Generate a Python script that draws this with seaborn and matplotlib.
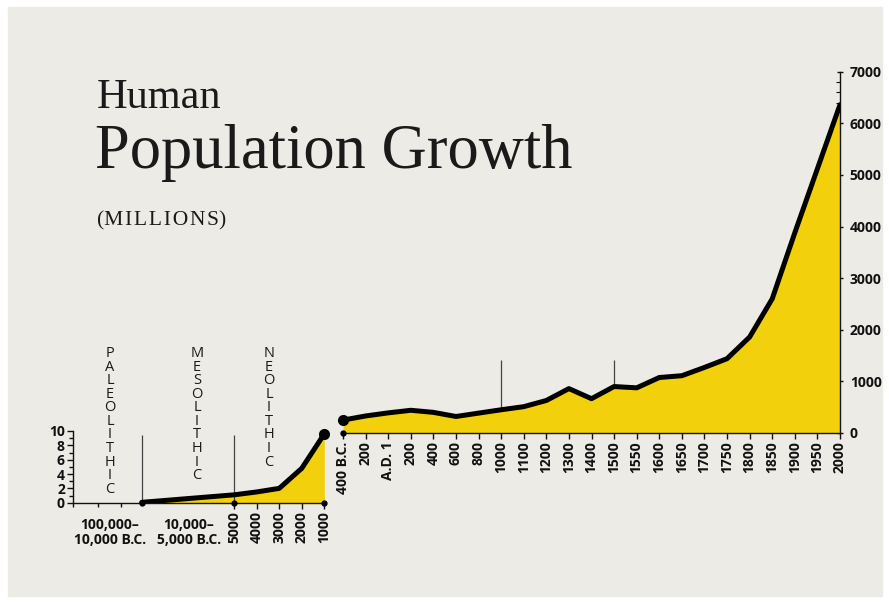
import numpy as np
import matplotlib
matplotlib.use("Agg")
import matplotlib.pyplot as plt
from matplotlib.patches import Rectangle
from matplotlib.ticker import MultipleLocator, FixedLocator
import seaborn as sns

# --- data (millions) ---
early_years = [-10000, -5000, -4000, -3000, -2000, -1000]   # B.C. as negative years
early_pop = [0.05, 1.1, 1.5, 2.0, 4.8, 9.6]
early_ticks = [-5000, -4000, -3000, -2000, -1000]
early_tick_labels = ["5000", "4000", "3000", "2000", "1000"]

late_labels = ["400 B.C.", "200", "A.D. 1", "200", "400", "600", "800", "1000",
               "1100", "1200", "1300", "1400", "1500", "1550", "1600", "1650",
               "1700", "1750", "1800", "1850", "1900", "1950", "2000"]
late_pop = [250, 330, 390, 440, 400, 320, 385, 450, 510, 630, 860, 665, 900,
            875, 1075, 1110, 1270, 1440, 1860, 2600, 3880, 5120, 6360]

eras = ["PALEOLITHIC", "MESOLITHIC", "NEOLITHIC"]

PAPER = "#ecebe5"
YELLOW = "#f3d00c"
INK = "#111111"

sns.set_style("white")
plt.rcParams["font.family"] = ["Open Sans", "DejaVu Sans"]

W, H = 889, 605
fig = plt.figure(figsize=(W / 100, H / 100), dpi=100)
fig.patch.set_facecolor("white")
fig.patches.append(Rectangle((8 / W, 1 - 596 / H), 874 / W, 589 / H,
                             transform=fig.transFigure, color=PAPER, zorder=-10))


def box(x0, y0, x1, y1):
    # pixel box (top-left origin) -> figure rect
    return [x0 / W, 1 - y1 / H, (x1 - x0) / W, (y1 - y0) / H]


tick_font = dict(fontsize=10, fontweight="bold", color=INK)

# --- early (B.C.) panel with a compressed time axis ---
knot_years = np.array([-100000, -10000, -5000, -1000], dtype=float)
knot_units = np.array([0.0, 3.04, 7.15, 11.15])


def fwd(x):
    x = np.asarray(x, dtype=float)
    return np.interp(x, knot_years, knot_units)


def inv(u):
    u = np.asarray(u, dtype=float)
    return np.interp(u, knot_units, knot_years)


ax_l = fig.add_axes(box(73.3, 431, 324.3, 502.7))
ax_l.set_facecolor("none")
ax_l.set_xscale("function", functions=(fwd, inv))
ax_l.fill_between(early_years, early_pop, color=YELLOW, lw=0, zorder=1)
sns.lineplot(x=early_years, y=early_pop, ax=ax_l, color="black", lw=3.6,
             solid_capstyle="round", zorder=3)
ax_l.set_xlim(-100000, -1000)
ax_l.set_ylim(0, 10)
ax_l.vlines([early_years[0], early_years[1]], 0, 9.4, color="#444", lw=0.9, zorder=2)
ax_l.plot([early_years[-1]], [early_pop[-1]], "o", color="black", ms=7,
          clip_on=False, zorder=4)
ax_l.plot([early_years[0], early_years[1], early_years[-1]], [0, 0, 0], "o",
          color="black", ms=3.5, clip_on=False, zorder=4)

for s in ["top", "right"]:
    ax_l.spines[s].set_visible(False)
for s in ["left", "bottom"]:
    ax_l.spines[s].set_color(INK)
    ax_l.spines[s].set_linewidth(1.0)

ax_l.yaxis.set_major_locator(MultipleLocator(2))
ax_l.yaxis.set_minor_locator(MultipleLocator(1))
ax_l.set_yticklabels([f"{int(v)}" for v in ax_l.get_yticks()], **tick_font)
ax_l.set_xticks(early_ticks)
ax_l.set_xticklabels(early_tick_labels, rotation=90, **tick_font)
ax_l.xaxis.set_minor_locator(FixedLocator([-100000, -68000, -37000]))
ax_l.tick_params(axis="both", which="major", length=4, width=1, color=INK, pad=2,
                 direction="out", left=True, bottom=True)
ax_l.tick_params(axis="both", which="minor", length=3, width=1, color=INK,
                 direction="out", left=True, bottom=True)
ax_l.set_xlabel("")
ax_l.set_ylabel("")

# period labels under the compressed part
fig.text(110 / W, 1 - 518 / H, "100,000–\n10,000 B.C.", ha="center", va="top",
         linespacing=1.05, **tick_font)
fig.text(189 / W, 1 - 518 / H, "10,000–\n5,000 B.C.", ha="center", va="top",
         linespacing=1.05, **tick_font)

# stacked era names
for word, xc in zip(eras, [110, 197, 269]):
    fig.text(xc / W, 1 - 346 / H, "\n".join(word), ha="center", va="top",
             multialignment="center", linespacing=0.87, fontsize=10.5,
             color="#1a1a1a")

# --- later panel (400 B.C. to 2000) ---
ax_r = fig.add_axes(box(343, 71.7, 840, 433))
ax_r.set_facecolor("none")
idx = np.arange(len(late_labels))
ax_r.fill_between(idx, late_pop, color=YELLOW, lw=0, zorder=1)
sns.lineplot(x=idx, y=late_pop, ax=ax_r, color="black", lw=3.6,
             solid_capstyle="round", zorder=3)
ax_r.set_xlim(0, len(late_labels) - 1)
ax_r.set_ylim(0, 7000)
marks = [late_labels.index("1000"), late_labels.index("1500")]
ax_r.vlines(marks, [late_pop[m] for m in marks], 1415, color="#444", lw=0.9, zorder=2)
ax_r.plot([0], [late_pop[0]], "o", color="black", ms=7, clip_on=False, zorder=4)
ax_r.plot([0], [0], "o", color="black", ms=3.5, clip_on=False, zorder=4)

for s in ["top", "left"]:
    ax_r.spines[s].set_visible(False)
for s in ["right", "bottom"]:
    ax_r.spines[s].set_color(INK)
    ax_r.spines[s].set_linewidth(1.0)

ax_r.yaxis.tick_right()
ax_r.yaxis.set_major_locator(MultipleLocator(1000))
ax_r.yaxis.set_minor_locator(MultipleLocator(200))
ax_r.set_yticklabels([f"{int(v)}" for v in ax_r.get_yticks()], **tick_font)
ax_r.set_xticks(idx)
ax_r.set_xticklabels(late_labels, rotation=90, **tick_font)
ax_r.tick_params(axis="x", which="major", length=4, width=1, color=INK, pad=2,
                 direction="out", bottom=True)
ax_r.tick_params(axis="y", which="major", length=4, width=1, color=INK, pad=5,
                 direction="inout", right=True, left=False)
ax_r.tick_params(axis="y", which="minor", length=3, width=0.8, color=INK,
                 direction="in", right=True, left=False)
ax_r.set_xlabel("")
ax_r.set_ylabel("")

# --- title block ---
serif = ["Liberation Serif", "DejaVu Serif"]
fig.text(97 / W, 1 - 108 / H, "Human", family=serif, fontsize=30.5,
         color="#1a1a1a", va="baseline")
fig.text(95 / W, 1 - 168 / H, "Population Growth", family=serif, fontsize=45,
         color="#1a1a1a", va="baseline")
fig.text(97 / W, 1 - 225 / H, "(M\u200aI\u200aL\u200aL\u200aI\u200aO\u200aN\u200aS)",
         family=serif, fontsize=15.5, color="#1a1a1a", va="baseline")

fig.savefig("out.png", dpi=100, facecolor=fig.get_facecolor())
